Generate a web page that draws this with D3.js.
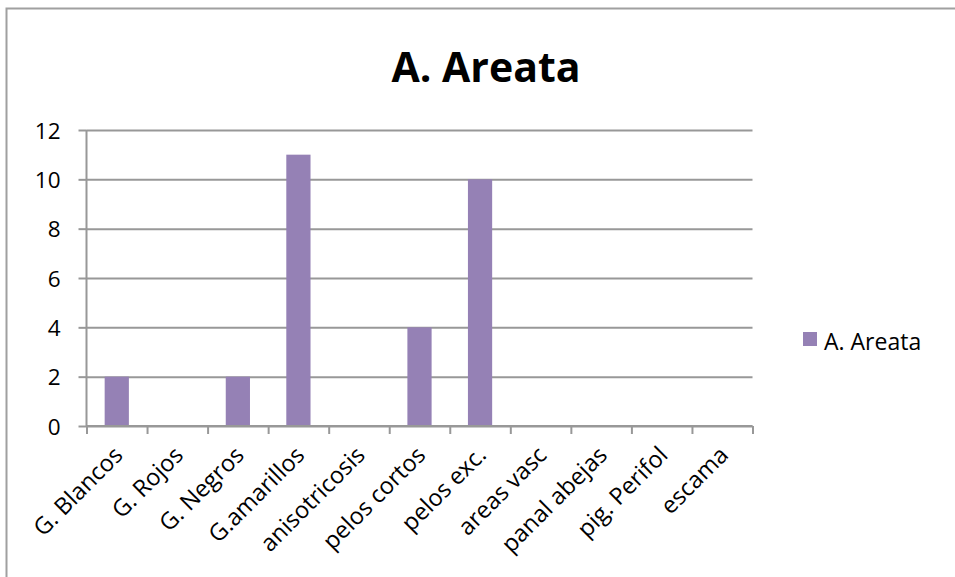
<!DOCTYPE html>
<html>
<head>
<meta charset="utf-8">
<script src="https://cdn.jsdelivr.net/npm/d3@7"></script>
<style>
  html, body { margin: 0; padding: 0; background: #fff; }
  svg { display: block; font-family: "Open Sans", "DejaVu Sans", sans-serif; }
</style>
</head>
<body>
<svg id="chart" width="955" height="577"></svg>
<script>
const categories = ["G. Blancos", "G. Rojos", "G. Negros", "G.amarillos", "anisotricosis",
  "pelos cortos", "pelos exc.", "areas vasc", "panal abejas", "pig. Perifol", "escama"];
const values = [2, 0, 2, 11, 0, 4, 10, 0, 0, 0, 0];
const yTicks = [0, 2, 4, 6, 8, 10, 12];
const seriesName = "A. Areata";
const chartTitle = "A. Areata";

(function () {
const svg = d3.select("#chart");
const pL = 86.5, pR = 752.5, pT = 130, pB = 426;
const gridColor = "#989898";
const barColor = "#9581B5";

// outer border (only top and left visible in the reference)
svg.append("rect")
  .attr("x", 6.5).attr("y", 8.5).attr("width", 1200).attr("height", 1200)
  .attr("fill", "none").attr("stroke", "#a0a0a0").attr("stroke-width", 2);

const x = d3.scaleBand().domain(categories).range([pL, pR]).padding(0);
const y = d3.scaleLinear().domain([0, 12]).range([pB, pT]);

// gridlines
const grid = svg.append("g").attr("transform", `translate(${pL},0)`)
  .call(d3.axisLeft(y).tickValues(yTicks).tickSize(-(pR - pL)).tickFormat(""));
grid.select(".domain").remove();
grid.selectAll("line").attr("stroke", gridColor).attr("stroke-width", 2);

// y axis with ticks + labels
const yAxis = svg.append("g").attr("transform", `translate(${pL},0)`)
  .call(d3.axisLeft(y).tickValues(yTicks).tickSize(8).tickPadding(18).tickFormat(d3.format("d")));
yAxis.select(".domain").attr("stroke", gridColor).attr("stroke-width", 2)
  .attr("d", `M0,${pT}V${pB}`);
yAxis.selectAll("line").attr("stroke", gridColor).attr("stroke-width", 2);
yAxis.selectAll("text").attr("font-size", 22.5).attr("fill", "#000")
  .attr("font-family", "'Open Sans', sans-serif").attr("dy", "0.36em");

// bars
const bw = x.bandwidth() * 0.4;
svg.append("g").selectAll("rect").data(values).join("rect")
  .attr("x", (d, i) => x(categories[i]) + (x.bandwidth() - bw) / 2)
  .attr("y", d => y(d))
  .attr("width", bw)
  .attr("height", d => y(0) - y(d))
  .attr("fill", barColor);

// x axis boundary ticks
const bScale = d3.scaleLinear().domain([0, categories.length]).range([pL, pR]);
const xTicks = svg.append("g").attr("transform", `translate(0,${pB})`)
  .call(d3.axisBottom(bScale).tickValues(d3.range(categories.length + 1)).tickSize(8).tickFormat(""));
xTicks.select(".domain").attr("stroke", gridColor).attr("stroke-width", 2).attr("d", `M${pL},0H${pR}`);
xTicks.selectAll("line").attr("stroke", gridColor).attr("stroke-width", 2);

// x axis category labels
const xAxis = svg.append("g").attr("transform", `translate(0,${pB})`)
  .call(d3.axisBottom(x).tickSize(0).tickPadding(0));
xAxis.select(".domain").remove();
xAxis.selectAll("text")
  .attr("font-size", 23.5).attr("fill", "#000")
  .attr("font-family", "'Open Sans', sans-serif")
  .attr("text-anchor", "end")
  .attr("x", 0).attr("y", 0).attr("dy", "0.75em")
  .attr("transform", "translate(-5,18) rotate(-45)");

// title
svg.append("text")
  .attr("x", 486).attr("y", 82)
  .attr("text-anchor", "middle")
  .attr("font-size", 41).attr("font-weight", "bold")
  .text(chartTitle);

// legend
svg.append("rect").attr("x", 803).attr("y", 332).attr("width", 14).attr("height", 14).attr("fill", barColor);
svg.append("text").attr("x", 824).attr("y", 349.5)
  .attr("font-size", 23).attr("fill", "#000").text(seriesName);
})();
</script>
</body>
</html>
